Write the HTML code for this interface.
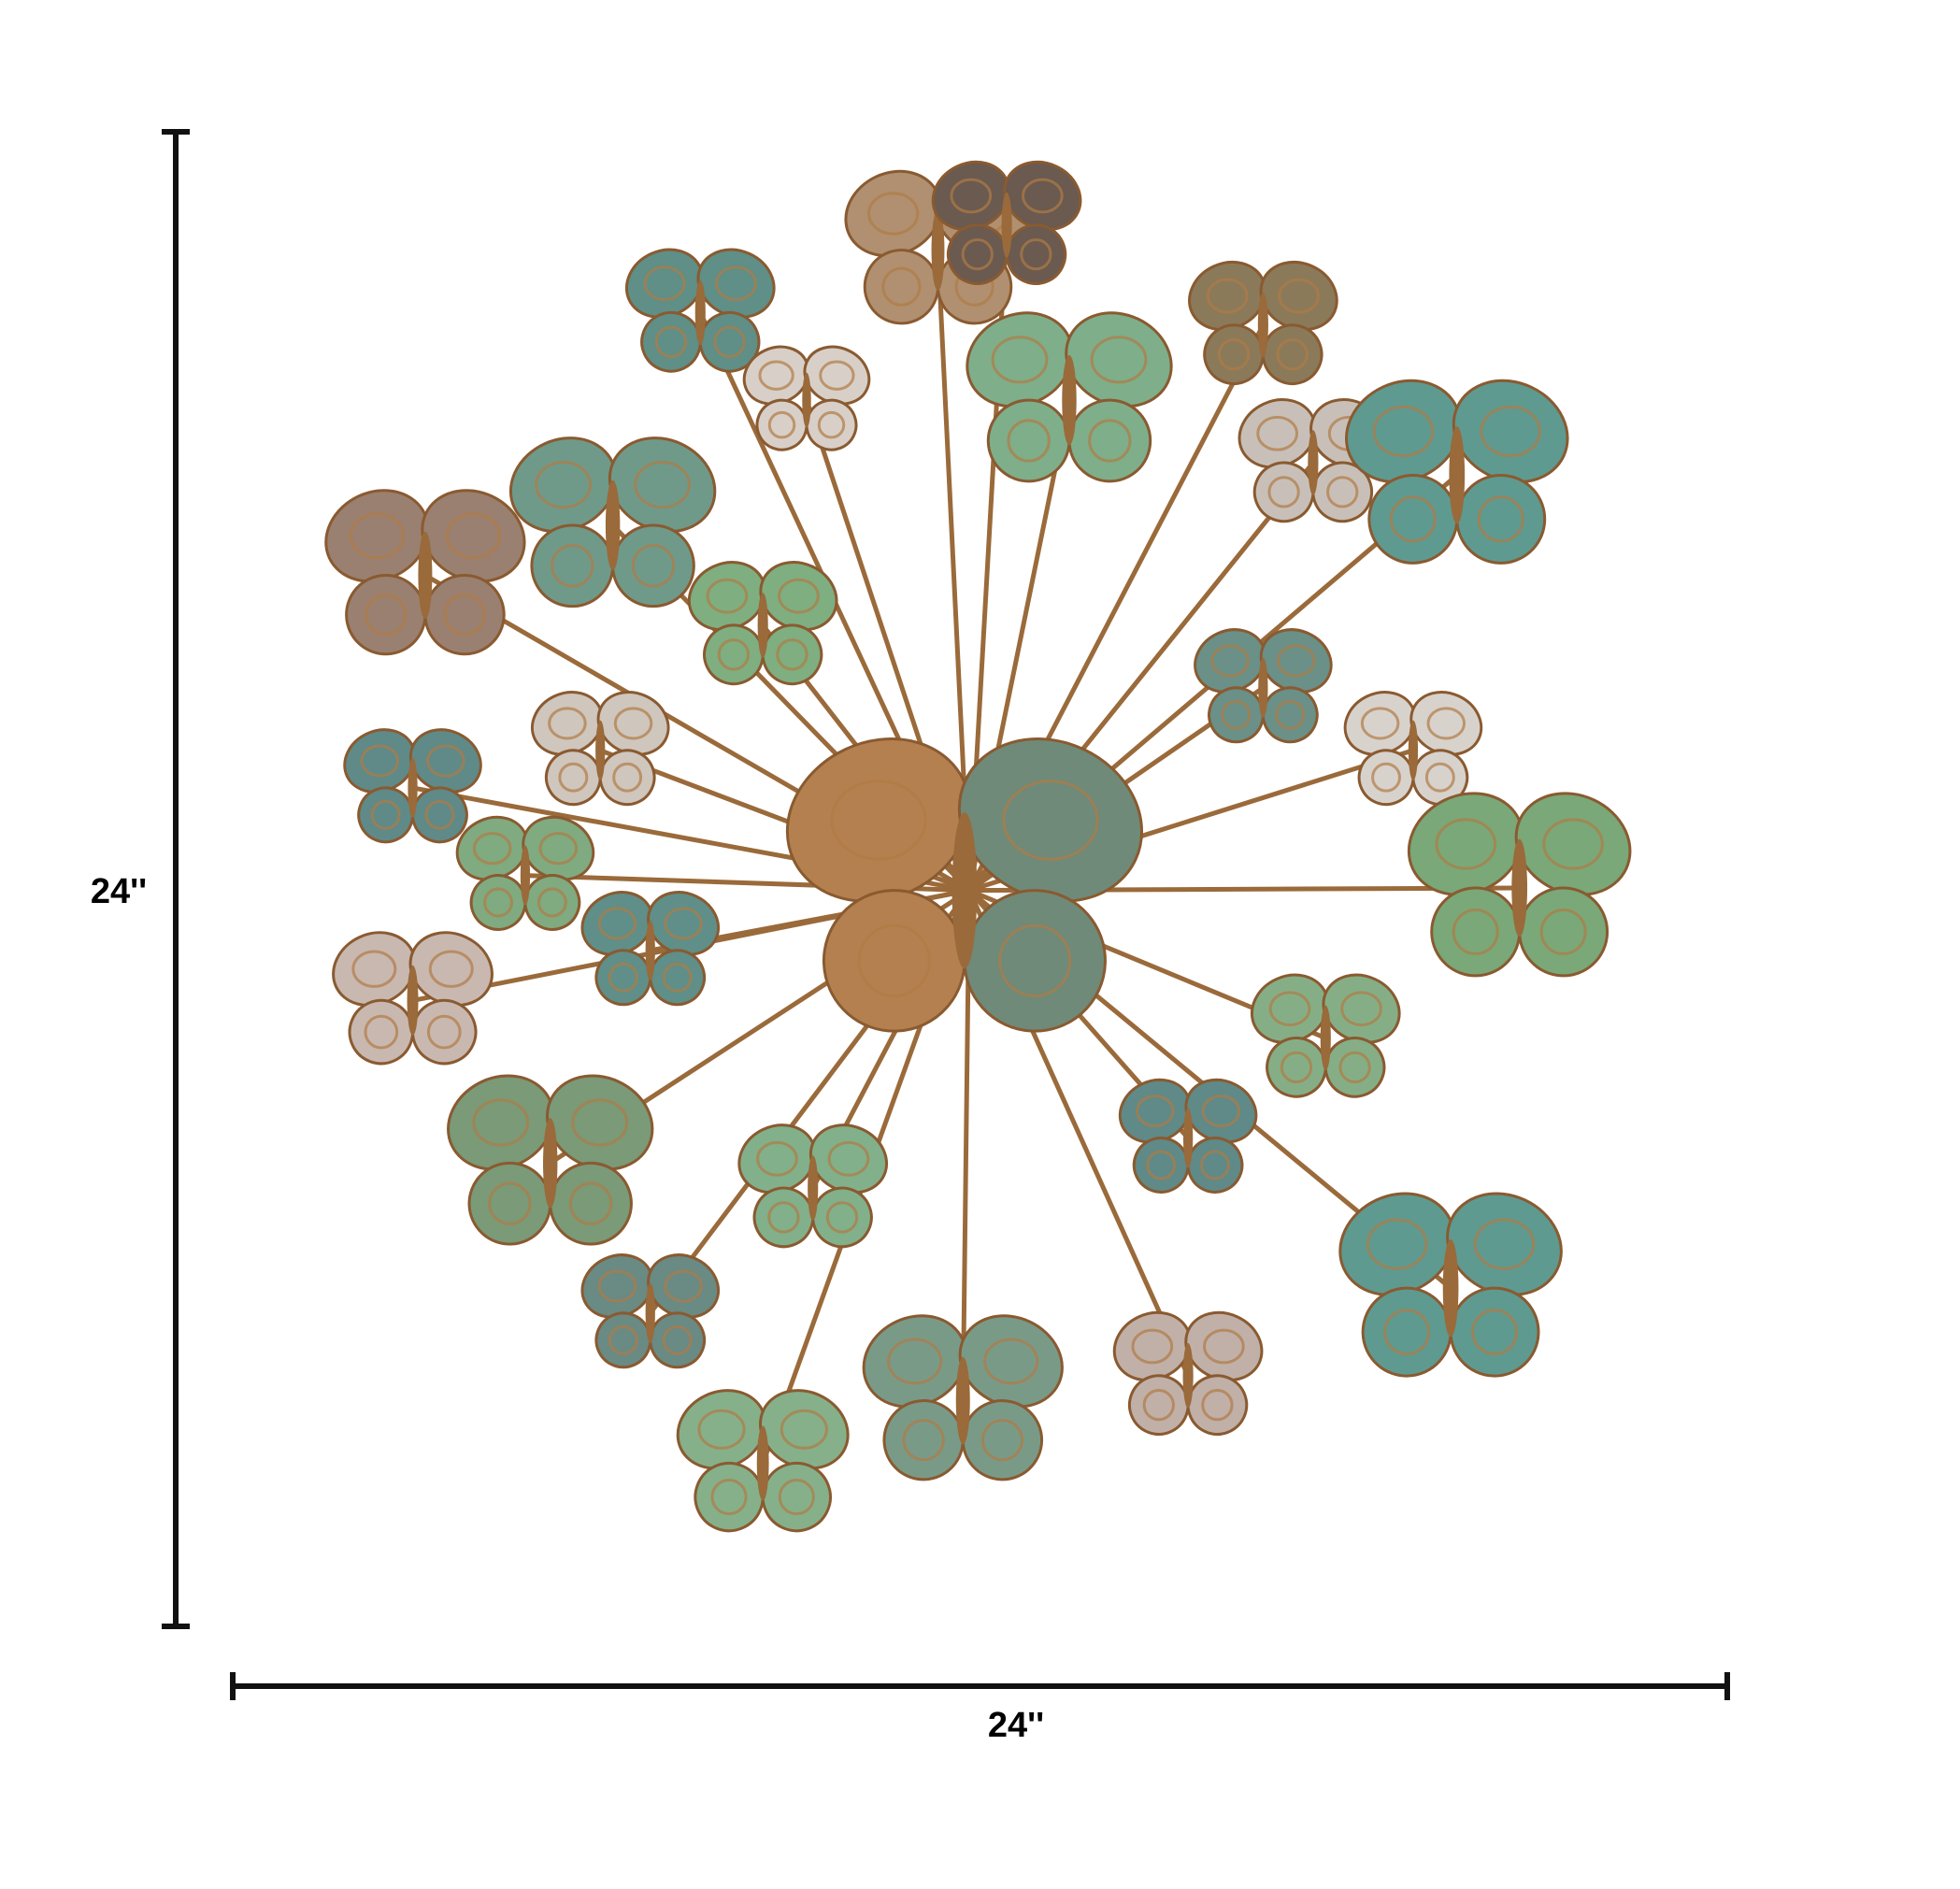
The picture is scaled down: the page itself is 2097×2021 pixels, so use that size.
<!DOCTYPE html>
<html><head><meta charset="utf-8"><style>
html,body{margin:0;padding:0;background:#fff;}
svg{display:block}
text{font-family:"Liberation Sans",sans-serif;font-weight:bold}
</style></head><body>
<svg id="s" width="2097" height="2021" viewBox="0 0 2097 2021">
<g>
<line x1="188" y1="141" x2="188" y2="1740" stroke="#111" stroke-width="6"/>
<line x1="173" y1="141" x2="203" y2="141" stroke="#111" stroke-width="6"/>
<line x1="173" y1="1740" x2="203" y2="1740" stroke="#111" stroke-width="6"/>
<text x="127" y="966" font-size="38" text-anchor="middle">24''</text>
</g>
<g>
<line x1="249" y1="1804" x2="1848" y2="1804" stroke="#111" stroke-width="6"/>
<line x1="249" y1="1789" x2="249" y2="1819" stroke="#111" stroke-width="6"/>
<line x1="1848" y1="1789" x2="1848" y2="1819" stroke="#111" stroke-width="6"/>
<text x="1087" y="1858" font-size="38" text-anchor="middle">24''</text>
</g>
<g id="art"></g>
</svg>
<script>
const S=1.338, cx=775*S, cy=712*S;
// [x,y,size,color] in reference display coords
const bflies=[[750,200,65,'#b09070'],[805,180,52,'#6a5a50'],[855,320,72,'#7fae8a'],[560,250,52,'#5f8f86'],[645,320,44,'#d8d0c8'],
[1010,260,52,'#8a7a5a'],[1050,370,52,'#c8c0b8'],[1165,380,78,'#5f9a90'],[340,460,70,'#9a8070'],[490,420,72,'#6f9a8a'],
[610,500,52,'#7fae80'],[1010,550,48,'#6a9088'],[1130,600,48,'#d8d2cc'],[1215,710,78,'#7aa878'],[330,630,48,'#5f8a88'],
[480,600,48,'#cfc6bd'],[420,700,48,'#80aa80'],[520,760,48,'#5f8f88'],[330,800,56,'#c8b8b0'],[440,930,72,'#7a9a78'],
[650,950,52,'#82b08a'],[1060,830,52,'#86ae86'],[950,910,48,'#5f8a88'],[1160,1030,78,'#5f9a90'],[520,1050,48,'#6a8a84'],
[610,1170,60,'#86b08a'],[770,1120,70,'#7a9a88'],[950,1100,52,'#c0b0a8']];
const art=document.getElementById('art');
const NS='http://www.w3.org/2000/svg';
function el(t,a){const e=document.createElementNS(NS,t);for(const k in a)e.setAttribute(k,a[k]);return e;}
bflies.forEach(b=>{const r=el('line',{x1:cx,y1:cy,x2:b[0]*S,y2:b[1]*S,stroke:'#9a6a3a','stroke-width':5});


art.appendChild(r);});
function fly(x,y,s,c,c2,name){const g=el('g',{transform:`translate(${x},${y})`});


[[-0.55,-0.45,0.6,0.5,-25,c],[0.55,-0.45,0.6,0.5,25,c2],[-0.45,0.45,0.45,0.45,20,c],[0.45,0.45,0.45,0.45,-20,c2]].forEach(w=>{
g.appendChild(el('ellipse',{cx:w[0]*s,cy:w[1]*s,rx:w[2]*s,ry:w[3]*s,fill:w[5],stroke:'#8a5a30','stroke-width':3,transform:`rotate(${w[4]} ${w[0]*s} ${w[1]*s})`}));
g.appendChild(el('ellipse',{cx:w[0]*s,cy:w[1]*s,rx:w[2]*s*0.5,ry:w[3]*s*0.5,fill:'none',stroke:'#b07a45','stroke-width':3,opacity:0.7}));});
g.appendChild(el('ellipse',{cx:0,cy:0,rx:s*0.08,ry:s*0.5,fill:'#9a6a3a'}));
art.appendChild(g);}
bflies.forEach(b=>fly(b[0]*S,b[1]*S,b[2]*S,b[3],b[3],'butterfly'));
fly(cx-5,cy,125*S,'#b5804f','#6f8a78','center-butterfly');
</script>
</body></html>
